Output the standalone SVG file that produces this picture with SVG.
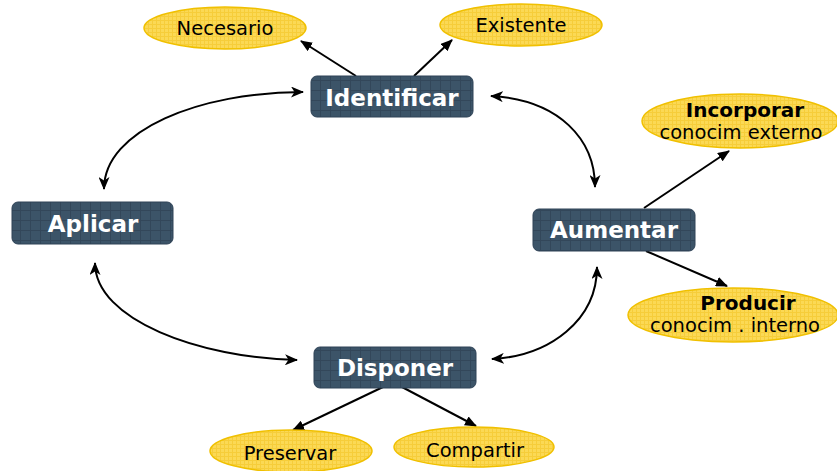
<svg xmlns="http://www.w3.org/2000/svg" width="837" height="471" viewBox="0 0 837 471">
<style>
.box{fill:url(#gridB);stroke:#2e4256;stroke-width:1}
.ell{fill:url(#gridY);stroke:#f0c000;stroke-width:1.5}
.bt{font-family:"DejaVu Sans",Verdana,sans-serif;font-weight:bold;font-size:23px;fill:#ffffff;text-anchor:middle}
.et{font-family:"DejaVu Sans",Verdana,sans-serif;font-size:19.5px;fill:#000000;text-anchor:middle}
.eb{font-weight:bold;font-size:20px}
.ln{fill:none;stroke:#000;stroke-width:2}
.cv{fill:none;stroke:#000;stroke-width:2;marker-start:url(#ch);marker-end:url(#ch)}
.st{marker-end:url(#ah)}
</style>
<defs>
<pattern id="gridB" width="10" height="10" patternUnits="userSpaceOnUse">
<rect width="10" height="10" fill="#3c5468"/>
<path d="M0 0.5H10M0.5 0V10" stroke="#33475a" stroke-width="1"/>
</pattern>
<pattern id="gridY" width="4" height="4" patternUnits="userSpaceOnUse">
<rect width="4" height="4" fill="#fbd955"/>
<path d="M0 0.5H4M0.5 0V4" stroke="#f6cd3a" stroke-width="1"/>
</pattern>
<marker id="ah" markerWidth="12" markerHeight="10" refX="11" refY="5" orient="auto" markerUnits="userSpaceOnUse">
<path d="M0,0 L12,5 L0,10 z" fill="#000"/>
</marker>
<marker id="ch" markerWidth="13" markerHeight="11" refX="12" refY="5.5" orient="auto-start-reverse" markerUnits="userSpaceOnUse">
<path d="M0,0 L13,5.5 L0,11 L3.5,5.5 z" fill="#000"/>
</marker>
</defs>
<g id="connectors">
<path class="ln st" d="M356 76 L301 41"/>
<path class="ln st" d="M414 76 L452 40"/>
<path class="ln st" d="M644 208 L729 151"/>
<path class="ln st" d="M646 251 L727 286"/>
<path class="ln st" d="M383 387 L293 430"/>
<path class="ln st" d="M402 387 L476 426"/>
<path class="cv" d="M303 92 C200 92 104 130 104 189"/>
<path class="cv" d="M95 263 C95 320 200 358 297 360"/>
<path class="cv" d="M491 96 C560 100 595 140 595 187"/>
<path class="cv" d="M597 267 C597 320 550 356 492 359"/>
</g>
<g id="identificar"><rect class="box" x="311" y="76" width="162" height="41" rx="6"/><text class="bt" x="392" y="106">Identificar</text></g>
<g id="aplicar"><rect class="box" x="12" y="202" width="161" height="42" rx="6"/><text class="bt" x="93" y="232">Aplicar</text></g>
<g id="aumentar"><rect class="box" x="533" y="209" width="162" height="42" rx="6"/><text class="bt" x="614" y="238">Aumentar</text></g>
<g id="disponer"><rect class="box" x="314" y="347" width="162" height="41" rx="6"/><text class="bt" x="395" y="376">Disponer</text></g>
<g id="necesario"><ellipse class="ell" cx="225" cy="28" rx="81" ry="21"/><text class="et" x="225" y="35">Necesario</text></g>
<g id="existente"><ellipse class="ell" cx="521" cy="25" rx="81" ry="21"/><text class="et" x="521" y="32">Existente</text></g>
<g id="incorporar"><ellipse class="ell" cx="740" cy="121" rx="98" ry="27"/><text class="et eb" x="745" y="117">Incorporar</text><text class="et" x="741" y="139">conocim externo</text></g>
<g id="producir"><ellipse class="ell" cx="733" cy="315" rx="105" ry="27"/><text class="et eb" x="748" y="310">Producir</text><text class="et" x="735" y="332">conocim . interno</text></g>
<g id="preservar"><ellipse class="ell" cx="291" cy="451" rx="81" ry="21"/><text class="et" x="290" y="460">Preservar</text></g>
<g id="compartir"><ellipse class="ell" cx="474" cy="447" rx="80" ry="20"/><text class="et" x="475" y="457">Compartir</text></g>
</svg>
